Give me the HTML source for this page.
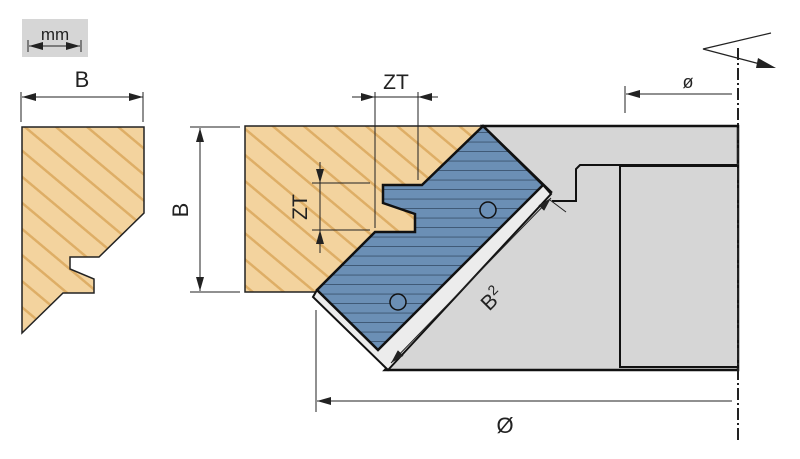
<!DOCTYPE html>
<html><head><meta charset="utf-8"><style>html,body{margin:0;padding:0;background:#fff}svg{display:block}text{font-family:"Liberation Sans",sans-serif;fill:#222}</style></head><body>
<svg width="800" height="459" viewBox="0 0 800 459" xmlns="http://www.w3.org/2000/svg">
<defs>
<pattern id="wood" patternUnits="userSpaceOnUse" width="20" height="20" patternTransform="rotate(40)">
<rect width="20" height="20" fill="#f3d39e"/><rect y="0" width="20" height="2.5" fill="#deae66"/>
</pattern>
<pattern id="blue" patternUnits="userSpaceOnUse" width="10" height="9.5">
<rect width="10" height="9.5" fill="#6b8fb5"/><rect y="8.6" width="10" height="0.9" fill="#3c5470"/>
</pattern>
<marker id="a" viewBox="0 0 14 8" refX="14" refY="4" markerWidth="14" markerHeight="8" orient="auto-start-reverse" markerUnits="userSpaceOnUse"><path d="M0,0 L14,4 L0,8z" fill="#222"/></marker>
</defs>
<rect x="22" y="19" width="66" height="38" fill="#d6d6d6"/>
<text x="55" y="40" font-size="17" text-anchor="middle">mm</text>
<line x1="29" y1="46" x2="80" y2="46" stroke="#222" stroke-width="1" marker-start="url(#a)" marker-end="url(#a)"/>
<line x1="28" y1="40" x2="28" y2="52" stroke="#222"/><line x1="81" y1="40" x2="81" y2="52" stroke="#222"/>
<polygon points="22,127 144,127 144,213 99,257 70,257 70,269 94,279 94,293 63,293 22,333" fill="url(#wood)" stroke="#222" stroke-width="1.5"/>
<line x1="22" y1="97" x2="143" y2="97" stroke="#222" marker-start="url(#a)" marker-end="url(#a)"/>
<line x1="21" y1="92" x2="21" y2="122" stroke="#222"/><line x1="143" y1="92" x2="143" y2="122" stroke="#222"/>
<text x="82" y="87" font-size="22" text-anchor="middle">B</text>
<rect x="245" y="126" width="250" height="166" fill="url(#wood)" stroke="#222" stroke-width="1.5"/>
<polygon points="483,126 738,126 738,370 385,370 551,192" fill="#d6d6d6" stroke="#111" stroke-width="2.5"/>
<rect x="620" y="166" width="118" height="201" fill="#d6d6d6" stroke="#111" stroke-width="2"/>
<polyline points="738,165 580,165 576,169 576,201 552,201" fill="none" stroke="#111" stroke-width="2"/>
<polygon points="317,290 378,350 543,185 551,194 388,370 313,297" fill="#ececec" stroke="#111" stroke-width="2"/>
<polygon points="483,126 543,185 378,350 317,290 375,232 415,232 415,214 383,203 383,185 422,185" fill="url(#blue)" stroke="#111" stroke-width="2.5"/>
<circle cx="488" cy="210" r="8" fill="#6b8fb5" stroke="#111" stroke-width="1.5"/>
<circle cx="398" cy="302" r="8" fill="#6b8fb5" stroke="#111" stroke-width="1.5"/>
<line x1="190" y1="127" x2="240" y2="127" stroke="#222"/><line x1="190" y1="292" x2="240" y2="292" stroke="#222"/>
<line x1="200" y1="128" x2="200" y2="291" stroke="#222" marker-start="url(#a)" marker-end="url(#a)"/>
<text transform="translate(188,210) rotate(-90)" font-size="22" text-anchor="middle">B</text>
<line x1="375" y1="92" x2="375" y2="228" stroke="#222"/><line x1="418" y1="92" x2="418" y2="180" stroke="#222"/>
<line x1="352" y1="97" x2="375" y2="97" stroke="#222" marker-end="url(#a)"/>
<line x1="438" y1="97" x2="418" y2="97" stroke="#222" marker-end="url(#a)"/>
<line x1="375" y1="97" x2="418" y2="97" stroke="#222"/>
<text x="396" y="89" font-size="21" text-anchor="middle">ZT</text>
<line x1="312" y1="183" x2="370" y2="183" stroke="#222"/><line x1="312" y1="230" x2="370" y2="230" stroke="#222"/>
<line x1="320" y1="162" x2="320" y2="183" stroke="#222" marker-end="url(#a)"/>
<line x1="320" y1="253" x2="320" y2="230" stroke="#222" marker-end="url(#a)"/>
<line x1="320" y1="183" x2="320" y2="230" stroke="#222"/>
<text transform="translate(307,207) rotate(-90)" font-size="21" text-anchor="middle">ZT</text>
<line x1="551" y1="198" x2="391" y2="363" stroke="#222" marker-start="url(#a)" marker-end="url(#a)"/>
<line x1="550" y1="200" x2="566" y2="212" stroke="#222"/>
<text transform="translate(497,304) rotate(-45)" font-size="21" text-anchor="middle">B<tspan font-size="14" dy="-8">2</tspan></text>
<line x1="625" y1="86" x2="625" y2="113" stroke="#222"/>
<line x1="732" y1="94" x2="626" y2="94" stroke="#222" marker-end="url(#a)"/>
<text x="688" y="88" font-size="18" text-anchor="middle">ø</text>
<line x1="316" y1="310" x2="316" y2="412" stroke="#222"/>
<line x1="732" y1="401" x2="317" y2="401" stroke="#222" marker-end="url(#a)"/>
<text x="505" y="433" font-size="22" text-anchor="middle">Ø</text>
<line x1="738" y1="48" x2="738" y2="440" stroke="#222" stroke-width="2" stroke-dasharray="12,3,2,3"/>
<polyline points="771,33 703,49 760,64" fill="none" stroke="#222" stroke-width="1.2"/>
<path d="M776,68 L758,58 L756,68z" fill="#222"/>
</svg>
</body></html>
